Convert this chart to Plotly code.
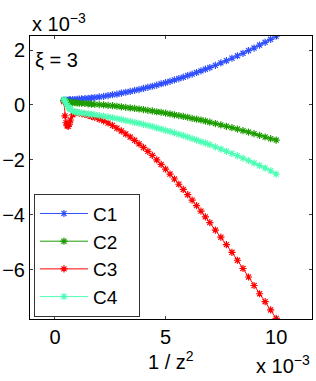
import plotly.graph_objects as go

# x = 1/z^2 in units of 1e-3
x_vals = [0.40, 0.45, 0.50, 0.55, 0.60, 0.65, 0.70, 0.80, 0.90, 1.00, 1.10, 1.20, 1.35, 1.50,
          1.65, 1.80, 2.00, 2.20, 2.40, 2.60, 2.80, 3.00, 3.20, 3.40, 3.60, 3.80, 4.00, 4.20,
          4.40, 4.60, 4.80, 5.00, 5.20, 5.40, 5.60, 5.80, 6.00, 6.20, 6.40, 6.60, 6.80, 7.00,
          7.25, 7.50, 7.75, 8.00, 8.25, 8.50, 8.75, 9.00, 9.25, 9.50, 9.75, 10.00]

# series values in units of 1e-3
c1 = [0.17, 0.17, 0.17, 0.17, 0.17, 0.18, 0.18, 0.19, 0.19, 0.20, 0.21, 0.22, 0.23, 0.24,
      0.25, 0.27, 0.29, 0.31, 0.34, 0.37, 0.39, 0.43, 0.46, 0.49, 0.53, 0.56, 0.60, 0.64,
      0.68, 0.72, 0.77, 0.81, 0.86, 0.91, 0.96, 1.01, 1.07, 1.12, 1.18, 1.24, 1.30, 1.36,
      1.44, 1.53, 1.61, 1.70, 1.79, 1.88, 1.98, 2.07, 2.18, 2.28, 2.39, 2.50]
c2 = [0.16, 0.14, 0.12, 0.11, 0.10, 0.09, 0.09, 0.08, 0.08, 0.07, 0.06, 0.06, 0.05, 0.04,
      0.03, 0.02, 0.01, 0.00, -0.02, -0.03, -0.05, -0.07, -0.09, -0.11, -0.13, -0.15, -0.17, -0.20,
      -0.22, -0.25, -0.27, -0.30, -0.33, -0.36, -0.39, -0.42, -0.45, -0.49, -0.52, -0.55, -0.59, -0.63,
      -0.68, -0.73, -0.78, -0.83, -0.88, -0.94, -0.99, -1.05, -1.11, -1.17, -1.23, -1.28]
c3 = [0.12, -0.40, -0.65, -0.76, -0.78, -0.70, -0.55, -0.36, -0.29, -0.28, -0.30, -0.32, -0.35, -0.38,
      -0.42, -0.46, -0.52, -0.58, -0.66, -0.75, -0.85, -0.95, -1.06, -1.17, -1.29, -1.42, -1.55, -1.69,
      -1.84, -2.00, -2.17, -2.34, -2.52, -2.70, -2.89, -3.08, -3.27, -3.47, -3.67, -3.87, -4.08, -4.29,
      -4.56, -4.82, -5.09, -5.37, -5.66, -5.96, -6.27, -6.58, -6.88, -7.17, -7.47, -7.78]
c4 = [0.20, 0.14, 0.06, -0.02, -0.08, -0.13, -0.17, -0.22, -0.25, -0.27, -0.28, -0.29, -0.31, -0.33,
      -0.34, -0.36, -0.39, -0.41, -0.44, -0.47, -0.50, -0.53, -0.57, -0.60, -0.64, -0.67, -0.71, -0.75,
      -0.79, -0.84, -0.88, -0.93, -0.97, -1.02, -1.07, -1.12, -1.17, -1.23, -1.28, -1.34, -1.39, -1.45,
      -1.53, -1.61, -1.69, -1.77, -1.85, -1.94, -2.03, -2.12, -2.21, -2.30, -2.40, -2.52]

series_names = ["C1", "C2", "C3", "C4"]
series_vals = [c1, c2, c3, c4]
colors = ["#2f4fff", "#1c9c00", "#ff0000", "#4dffb4"]

x_ticks = [0, 5, 10]
y_ticks = [-6, -4, -2, 0, 2]

FONT = "Liberation Sans, Arial, Helvetica, sans-serif"
FS = 20

fig = go.Figure()
for name, vals, col in zip(series_names, series_vals, colors):
    fig.add_trace(go.Scatter(
        x=x_vals, y=vals, name=name + "\u00a0\u00a0\u00a0", mode="lines+markers",
        line=dict(color=col, width=1),
        marker=dict(symbol="asterisk-open", size=6, color=col, line=dict(color=col, width=1.2)),
    ))

fig.update_layout(
    width=316, height=381,
    margin=dict(l=30, r=4, t=36, b=62),
    paper_bgcolor="white", plot_bgcolor="white",
    font=dict(family=FONT, size=FS, color="black"),
    showlegend=True,
    legend=dict(x=0.014, y=0.443, xanchor="left", yanchor="top",
                bgcolor="white", bordercolor="#333333", borderwidth=1,
                font=dict(size=19), tracegroupgap=0, itemwidth=48),
    xaxis=dict(range=[-1.13, 11.62], tickvals=x_ticks, ticks="inside", ticklen=3,
               showline=True, linecolor="black", linewidth=1, mirror="ticks",
               showgrid=False, zeroline=False, tickfont=dict(size=FS), automargin=False),
    yaxis=dict(range=[-7.8, 2.51], tickvals=y_ticks, ticks="inside", ticklen=3,
               showline=True, linecolor="black", linewidth=1, mirror="ticks",
               showgrid=False, zeroline=False, tickfont=dict(size=FS), automargin=False),
    annotations=[
        dict(text="x 10<sup>−3</sup>", xref="paper", yref="paper", x=0.0, y=0.995,
             xanchor="left", yanchor="bottom", showarrow=False, font=dict(size=FS)),
        dict(text="x 10<sup>−3</sup>", xref="paper", yref="paper", x=1.0, y=-0.212,
             xanchor="right", yanchor="bottom", showarrow=False, font=dict(size=FS)),
        dict(text="1 / z<sup>2</sup>", xref="paper", yref="paper", x=0.5, y=-0.095,
             xanchor="center", yanchor="top", showarrow=False, font=dict(size=FS)),
        dict(text="ξ = 3", xref="paper", yref="paper", x=0.012, y=0.915,
             xanchor="left", yanchor="middle", showarrow=False, font=dict(size=FS)),
    ],
)

fig.write_html("out.html", config={"displayModeBar": False},
               post_script="document.body.style.margin='0';")
